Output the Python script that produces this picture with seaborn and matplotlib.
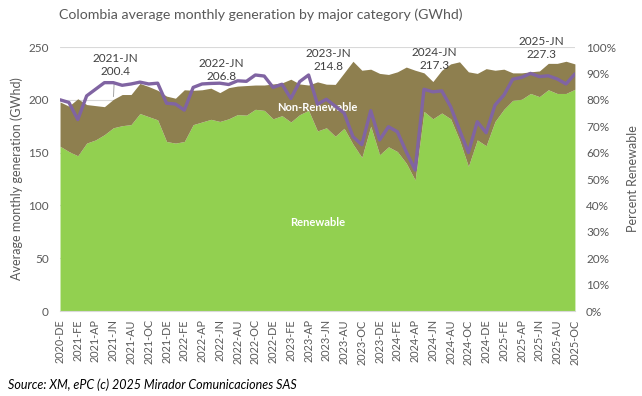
import numpy as np
import pandas as pd
import matplotlib
matplotlib.use('Agg')
import matplotlib.pyplot as plt
import seaborn as sns

# monthly values, 2020-DE .. 2025-OC
renewable = [156, 151, 147, 159, 162, 167, 173.5, 175.5, 176.5, 187, 184, 181,
             160.5, 159, 160.5, 176.5, 179, 181.5, 179.5, 182, 186, 185.5, 191, 190,
             182, 185, 179, 186, 190, 170.5, 173.5, 165.5, 173, 158, 145.5, 175,
             148, 155.5, 151, 140, 124, 189, 182, 187.5, 182, 162, 137, 162,
             156.5, 179.5, 191, 199.5, 200.5, 206, 203, 209.5, 206, 206, 210]
total = [198, 194, 201, 195.5, 194.5, 193.5, 200.4, 205, 205, 215.5, 212.5, 209,
         203.5, 201.5, 209.5, 209, 209.5, 211, 206.8, 211.5, 213, 213.5, 214, 214,
         215, 216, 219.5, 215, 214, 217, 214.8, 214.6, 225.5, 236.5, 228, 229,
         225, 224, 226.5, 231, 228, 225.5, 217.3, 228, 234, 236, 226.5, 225,
         229.5, 228, 229, 225.5, 225.5, 226.5, 227.3, 234.5, 234.5, 236.5, 234]
pct_renew = [80, 79, 72.5, 81.5, 84, 86.5, 86.5, 85.5, 86, 86.7, 86, 86.3,
             78.7, 78.4, 76.1, 84.7, 86, 86.2, 86.3, 85.8, 87.2, 87, 89.4, 89,
             84.7, 85.9, 80.5, 86.9, 89.4, 78.3, 80.2, 77.6, 75, 66, 63, 75.9,
             64.8, 69.8, 67.9, 60.3, 53.4, 84, 83, 83.4, 77.4, 68.6, 60, 71.7,
             67.5, 78, 81.8, 87.8, 88.5, 90, 88.8, 89.1, 87.9, 86, 89.8]

month_codes = ['EN', 'FE', 'MR', 'AP', 'MY', 'JN', 'JL', 'AU', 'SE', 'OC', 'NO', 'DE']
start_year, start_month = 2020, 12

# june peaks that get a data label
label_idx = [6, 18, 30, 42, 54]
label_txt_y = [232.7, 228.4, 237.4, 238.8, 249.3]

labels = []
y, m = start_year, start_month
for _ in range(len(total)):
    labels.append(f"{y}-{month_codes[m - 1]}")
    m += 1
    if m > 12:
        m = 1
        y += 1

df = pd.DataFrame({'month': labels, 'Renewable': renewable, 'Total': total,
                   'Pct': pct_renew})
df['idx'] = np.arange(len(df))
df['NonRenewable'] = df['Total'] - df['Renewable']

sns.set_style('white')
plt.rcParams['font.family'] = ['Lato', 'DejaVu Sans']

green = '#92D050'
olive = '#8E7F4F'
purple = '#8064A2'
grey = '#595959'

fig = plt.figure(figsize=(6.42, 3.96), dpi=100)
ax = fig.add_axes([0.0935, 0.2146, 0.802, 0.6667])

ax.stackplot(df['idx'], df['Renewable'], df['NonRenewable'],
             colors=[green, olive], linewidth=0, zorder=2)
ax.set_xlim(0, len(df) - 1)
ax.set_ylim(0, 250)
ax.set_yticks(range(0, 251, 50))
ax.yaxis.grid(True, color='#d9d9d9', linewidth=0.8)
ax.set_axisbelow(True)
for s in ['top', 'left', 'right']:
    ax.spines[s].set_visible(False)
ax.spines['bottom'].set_color('#d9d9d9')
ax.set_xticks(df['idx'])
ax.set_xticklabels([l if i % 2 == 0 else '' for i, l in enumerate(labels)],
                   rotation=90, fontsize=7.8, color=grey)
ax.tick_params(axis='x', length=4, color='#d9d9d9', pad=2)
ax.tick_params(axis='y', length=0, labelsize=8.5, labelcolor=grey, pad=8)
ax.set_ylabel('Average monthly generation (GWhd)', fontsize=9, color=grey, labelpad=4)
ax.set_xlabel('')

for k, ty in zip(label_idx, label_txt_y):
    txt = f"{labels[k]}\n{total[k]:.1f}"
    arrow = dict(arrowstyle='-', color='#a6a6a6', lw=0.7) if k == 6 else None
    ax.annotate(txt, xy=(k, total[k]), xytext=(k + 0.2, ty), ha='center', va='center',
                fontsize=8.5, color='#404040', linespacing=1.25,
                arrowprops=arrow, annotation_clip=False, zorder=6)

ax.text(29, 192.5, 'Non-Renewable', color='white', fontsize=8, fontweight='bold',
        ha='center', va='center', zorder=5)
ax.text(29, 84, 'Renewable', color='white', fontsize=8, fontweight='bold',
        ha='center', va='center', zorder=5)

ax2 = ax.twinx()
sns.lineplot(data=df, x='idx', y='Pct', ax=ax2, color=purple, linewidth=2.4,
             legend=False)
ax2.set_ylim(0, 100)
ax2.set_yticks(range(0, 101, 10))
ax2.set_yticklabels([f"{v}%" for v in range(0, 101, 10)])
ax2.set_xlim(0, len(df) - 1)
for s in ['top', 'left', 'right', 'bottom']:
    ax2.spines[s].set_visible(False)
ax2.tick_params(axis='y', length=0, labelsize=8.5, labelcolor=grey, pad=8)
ax2.set_ylabel('Percent Renewable', fontsize=9, color=grey, labelpad=8)
ax2.set_xlabel('')

fig.text(0.406, 0.962, 'Colombia average monthly generation by major category (GWhd)',
         ha='center', va='center', fontsize=10.2, color=grey)
fig.text(0.012, 0.028, 'Source: XM, ePC (c) 2025 Mirador Comunicaciones SAS',
         ha='left', va='center', fontsize=9, style='italic', color='black')

fig.savefig('out.png', dpi=100)
